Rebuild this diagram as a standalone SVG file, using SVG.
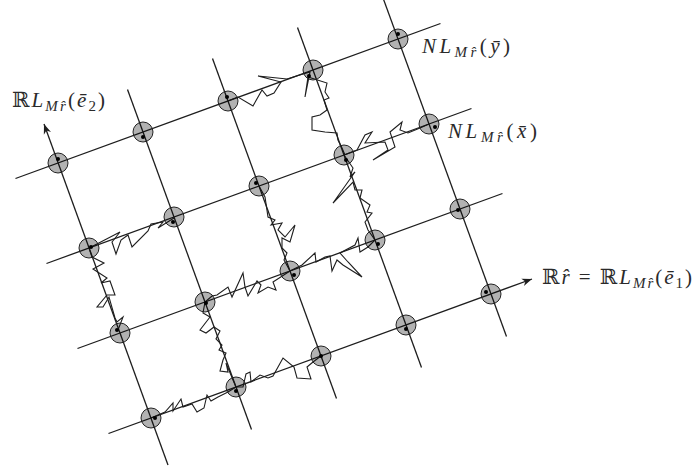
<svg xmlns="http://www.w3.org/2000/svg" width="694" height="472" viewBox="0 0 694 472">
<style>
.ln{stroke:#1e1e1e;stroke-width:1.3;fill:none}
.jg{stroke:#1e1e1e;stroke-width:1.1;fill:none;stroke-linejoin:miter}
.c{fill:#000;fill-opacity:0.3;stroke:#222;stroke-width:1}
.d{fill:#000}
.t{font-family:"Liberation Serif","DejaVu Serif",serif;font-size:21px;fill:#2a2a2a}
.i{font-style:italic}
.s{font-size:15px}
</style>
<defs>
<marker id="arr" markerUnits="userSpaceOnUse" markerWidth="14" markerHeight="10" viewBox="-11 -5 12 10" refX="0" refY="0" orient="auto">
<path d="M-10,-3.8 L0,0 L-10,3.8 L-7,0 Z" fill="#1e1e1e"/>
</marker>
</defs>
<rect width="694" height="472" fill="#fff"/>
<g id="connectors">
<line class="ln" x1="15.5" y1="178.5" x2="440.5" y2="23.5"/>
<line class="ln" x1="46.5" y1="263.5" x2="471.5" y2="108.5"/>
<line class="ln" x1="77.5" y1="348.5" x2="502.5" y2="193.5"/>
<line class="ln" x1="108.5" y1="433.5" x2="532" y2="279" marker-end="url(#arr)"/>
<line class="ln" x1="168" y1="465" x2="44" y2="124" marker-end="url(#arr)"/>
<line class="ln" x1="127.5" y1="89.5" x2="251.5" y2="429.5"/>
<line class="ln" x1="212.5" y1="58.5" x2="336.5" y2="398.5"/>
<line class="ln" x1="297.5" y1="27.5" x2="421.5" y2="367.5"/>
<line class="ln" x1="382.5" y1="-3.5" x2="506.5" y2="336.5"/>
<path class="jg" d="M89,248 L95,245 L120,232 L112,242 L116,254 L121,240 L128,235 L132,247 L148,231 L151,224 L163,222 L158,228 L174,218"/>
<path class="jg" d="M89,248 L92,257 L104,263 L93,269 L107,278 L101,283 L110,281 L115,295 L107,295 L97,307 L103,307 L109,297 L115,318 L117,322 L123,317 L118,330"/>
<path class="jg" d="M228,101 L238,97 L253,106 L262,90 L267,96 L274,93 L281,82 L258,76 L287,79 L303,74 L310,72 L305,97 L308,77 L327,83 L325,92 L329,98 L324,100 L327,110 L320,115 L312,117 L312,130 L325,132 L337,133 L338,140 L342,148 L345,155"/>
<path class="jg" d="M344,155 L357,150 L365,135 L372,132 L365,143 L385,142 L388,150 L373,160 L395,147 L390,132 L402,122 L400,130 L408,133 L420,128 L429,124"/>
<path class="jg" d="M344,155 L353,168 L350,177 L355,172 L333,203 L353,182 L355,190 L362,190 L360,198 L370,205 L367,212 L372,213 L365,222 L368,230 L375,240"/>
<path class="jg" d="M259,186 L265,197 L268,217 L275,220 L271,225 L282,223 L278,230 L285,237 L295,225 L290,242 L282,238 L282,248 L287,253 L284,260 L290,271"/>
<path class="jg" d="M290,271 L302,265 L315,253 L316,262 L325,257 L330,256 L332,271 L337,260 L343,265 L362,277 L348,262 L340,253 L355,245 L358,238 L360,252 L368,247 L375,240"/>
<path class="jg" d="M205,302 L212,296 L217,295 L228,287 L232,297 L243,273 L245,287 L248,296 L257,281 L261,285 L258,293 L268,287 L276,290 L273,282 L290,271"/>
<path class="jg" d="M205,302 L203,313 L210,317 L200,330 L206,333 L214,327 L220,331 L216,339 L222,345 L219,350 L226,353 L223,360 L220,371 L228,372 L226,363 L233,380 L236,387"/>
<path class="jg" d="M236,387 L243,387 L246,374 L250,372 L251,382 L260,375 L268,378 L273,376 L283,358 L294,367 L297,378 L311,379 L307,367 L313,362 L321,356"/>
<path class="jg" d="M151,418 L165,412 L173,403 L173,411 L181,399 L183,407 L192,404 L197,412 L204,408 L207,395 L211,401 L218,397 L228,392 L236,387"/>
</g>
<g id="n00"><circle class="c" cx="58" cy="163" r="10"/><circle class="d" cx="58" cy="159" r="2"/></g>
<g id="n10"><circle class="c" cx="143" cy="132" r="10"/><circle class="d" cx="143" cy="137" r="2"/></g>
<g id="n20"><circle class="c" cx="228" cy="101" r="10"/><circle class="d" cx="227" cy="97" r="2"/></g>
<g id="n30"><circle class="c" cx="313" cy="70" r="10"/><circle class="d" cx="309" cy="76" r="2"/></g>
<g id="n40"><circle class="c" cx="398" cy="39" r="10"/><circle class="d" cx="398" cy="34" r="2"/></g>
<g id="n01"><circle class="c" cx="89" cy="248" r="10"/><circle class="d" cx="91" cy="247" r="2"/></g>
<g id="n11"><circle class="c" cx="174" cy="217" r="10"/><circle class="d" cx="173" cy="222" r="2"/></g>
<g id="n21"><circle class="c" cx="259" cy="186" r="10"/><circle class="d" cx="256" cy="183" r="2"/></g>
<g id="n31"><circle class="c" cx="344" cy="155" r="10"/><circle class="d" cx="346" cy="160" r="2"/></g>
<g id="n41"><circle class="c" cx="429" cy="124" r="10"/><circle class="d" cx="435" cy="127" r="2"/></g>
<g id="n02"><circle class="c" cx="120" cy="333" r="10"/><circle class="d" cx="117" cy="330" r="2"/></g>
<g id="n12"><circle class="c" cx="205" cy="302" r="10"/><circle class="d" cx="206" cy="303" r="2"/></g>
<g id="n22"><circle class="c" cx="290" cy="271" r="10"/><circle class="d" cx="294" cy="275" r="2"/></g>
<g id="n32"><circle class="c" cx="375" cy="240" r="10"/><circle class="d" cx="378" cy="244" r="2"/></g>
<g id="n42"><circle class="c" cx="460" cy="209" r="10"/><circle class="d" cx="458" cy="210" r="2"/></g>
<g id="n03"><circle class="c" cx="151" cy="418" r="10"/><circle class="d" cx="155" cy="418" r="2"/></g>
<g id="n13"><circle class="c" cx="236" cy="387" r="10"/><circle class="d" cx="236" cy="391" r="2"/></g>
<g id="n23"><circle class="c" cx="321" cy="356" r="10"/><circle class="d" cx="321" cy="356" r="2"/></g>
<g id="n33"><circle class="c" cx="406" cy="325" r="10"/><circle class="d" cx="406" cy="329" r="2"/></g>
<g id="n43"><circle class="c" cx="491" cy="294" r="10"/><circle class="d" cx="486" cy="292" r="2"/></g>
<g id="labels">
<text class="t" x="12" y="107" textLength="93" lengthAdjust="spacing">ℝ<tspan class="i">L</tspan><tspan class="i s" dy="4">Mr̂</tspan><tspan dy="-4">(</tspan><tspan class="i">ē</tspan><tspan class="s" dy="4">2</tspan><tspan dy="-4">)</tspan></text>
<text class="t" x="422" y="53" textLength="88" lengthAdjust="spacing"><tspan class="i">NL</tspan><tspan class="i s" dy="4">Mr̂</tspan><tspan dy="-4">(</tspan><tspan class="i">ȳ</tspan>)</text>
<text class="t" x="448" y="138" textLength="89" lengthAdjust="spacing"><tspan class="i">NL</tspan><tspan class="i s" dy="4">Mr̂</tspan><tspan dy="-4">(</tspan><tspan class="i">x̄</tspan>)</text>
<text class="t" x="542" y="284" textLength="150" lengthAdjust="spacing">ℝ<tspan class="i">r̂</tspan> = ℝ<tspan class="i">L</tspan><tspan class="i s" dy="4">Mr̂</tspan><tspan dy="-4">(</tspan><tspan class="i">ē</tspan><tspan class="s" dy="4">1</tspan><tspan dy="-4">)</tspan></text>
</g>
</svg>
